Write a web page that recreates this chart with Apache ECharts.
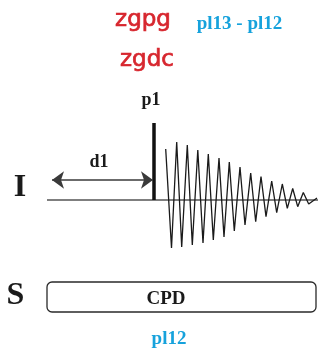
<!DOCTYPE html>
<html>
<head>
<meta charset="utf-8">
<script src="https://cdn.jsdelivr.net/npm/echarts@6/dist/echarts.min.js"></script>
<style>html,body{margin:0;padding:0;background:#fff;}#c{width:318px;height:350px;}</style>
</head>
<body>
<div id="c"></div>
<script>
// FID (free induction decay) samples: time and amplitude
var fidTime = [165.7, 171.5, 176.7, 181.7, 187.3, 192.3, 197.8, 203, 208.3, 213.3, 219, 224, 229.3, 234.3, 240, 245, 250.7, 255.7, 261, 266, 271.7, 276.7, 282.3, 287.3, 292.7, 297.7, 303.3, 308.7, 317];
var fidAmp  = [51, -48, 58, -47, 55, -45, 50, -43, 46, -40, 42, -37, 38, -31, 33, -25, 27, -21.7, 23.5, -16.7, 19, -12.7, 16, -8.3, 11.5, -6.7, 7.5, -4, 2];
// channel baseline
var baseTime = [47, 318];
// p1 pulse
var pulseTime = 154;
var pulseAmp = 77;
// d1 delay arrow
var d1Time = [52, 153];
var d1Amp = 20;
// CPD decoupling block on S channel
var cpdTime = [47, 316];
var cpdAmp = [-82, -112];
// text labels
var labelTexts = ['zgpg', 'zgdc', 'pl13 - pl12', 'p1', 'd1', 'I', 'S', 'CPD', 'pl12'];
var labelTime  = [143, 147, 239.5, 151, 99, 20, 15.5, 166, 169];
var labelAmp   = [179.5, 140, 175.5, 100, 38, 12, -96, -99, -139.5];

var red = '#d7262e', cyan = '#16a2dc', ink = '#1a1a1a';
var labelStyles = [
  {fill: red, fontSize: 23, fontFamily: 'DejaVu Sans', fontWeight: 'normal', stroke: red, lineWidth: 0.7},
  {fill: red, fontSize: 23, fontFamily: 'DejaVu Sans', fontWeight: 'normal', stroke: red, lineWidth: 0.7},
  {fill: cyan, fontSize: 19, fontFamily: 'Liberation Serif', fontWeight: 'bold'},
  {fill: ink, fontSize: 18, fontFamily: 'Liberation Serif', fontWeight: 'bold'},
  {fill: ink, fontSize: 18, fontFamily: 'Liberation Serif', fontWeight: 'bold'},
  {fill: ink, fontSize: 32, fontFamily: 'Liberation Serif', fontWeight: 'bold'},
  {fill: ink, fontSize: 32, fontFamily: 'Liberation Serif', fontWeight: 'bold'},
  {fill: ink, fontSize: 19, fontFamily: 'Liberation Serif', fontWeight: 'bold'},
  {fill: cyan, fontSize: 19, fontFamily: 'Liberation Serif', fontWeight: 'bold'}
];

var fidData = fidTime.map(function (t, i) { return [t, fidAmp[i]]; });
var labelData = labelTexts.map(function (s, i) { return [labelTime[i], labelAmp[i], i]; });

var chart = echarts.init(document.getElementById('c'), null, {renderer: 'canvas'});
chart.setOption({
  animation: false,
  backgroundColor: '#fff',
  grid: {left: 0, right: 0, top: 0, bottom: 0},
  xAxis: {type: 'value', min: 0, max: 318, show: false},
  yAxis: {type: 'value', min: -150, max: 200, show: false},
  series: [
    {
      type: 'custom', silent: true, z: 1,
      data: [[cpdTime[0], cpdAmp[0], cpdTime[1], cpdAmp[1]]],
      encode: {x: [0, 2], y: [1, 3]},
      renderItem: function (params, api) {
        var p0 = api.coord([api.value(0), api.value(1)]);
        var p1 = api.coord([api.value(2), api.value(3)]);
        return {
          type: 'rect',
          shape: {x: p0[0], y: p0[1], width: p1[0] - p0[0], height: p1[1] - p0[1], r: 5},
          style: {fill: '#fff', stroke: '#2a2a2a', lineWidth: 1.3}
        };
      }
    },
    {
      type: 'line', silent: true, symbol: 'none', z: 2,
      data: [[baseTime[0], 0], [baseTime[1], 0]],
      lineStyle: {color: '#555', width: 1.6}
    },
    {
      type: 'line', silent: true, symbol: 'none', z: 3,
      data: fidData,
      lineStyle: {color: ink, width: 1.3}
    },
    {
      type: 'line', silent: true, symbol: 'none', z: 4,
      data: [[pulseTime, 0], [pulseTime, pulseAmp]],
      lineStyle: {color: '#111', width: 3.5}
    },
    {
      type: 'line', silent: true, symbol: 'none', z: 4,
      data: [],
      markLine: {
        silent: true, animation: false,
        symbol: ['arrow', 'arrow'], symbolSize: [13, 12],
        label: {show: false},
        lineStyle: {color: '#3a3a3a', width: 1.5, type: 'solid'},
        itemStyle: {color: '#111'},
        data: [[{coord: [d1Time[0], d1Amp]}, {coord: [d1Time[1], d1Amp]}]]
      }
    },
    {
      type: 'custom', silent: true, z: 5,
      data: labelData,
      encode: {x: 0, y: 1},
      renderItem: function (params, api) {
        var idx = api.value(2);
        var p = api.coord([api.value(0), api.value(1)]);
        var s = labelStyles[idx];
        var st = {
          text: labelTexts[idx], fill: s.fill, fontSize: s.fontSize,
          fontFamily: s.fontFamily, fontWeight: s.fontWeight,
          align: 'center', verticalAlign: 'middle'
        };
        if (s.stroke) { st.stroke = s.stroke; st.lineWidth = s.lineWidth; }
        return { type: 'text', x: p[0], y: p[1], style: st };
      }
    }
  ]
});
</script>
</body>
</html>
